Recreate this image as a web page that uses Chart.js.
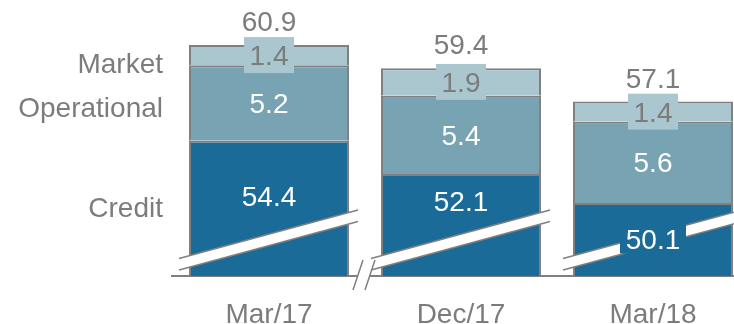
<!DOCTYPE html>
<html lang="en">
<head>
<meta charset="UTF-8">
<title>Capital requirements by risk type</title>
<script src="https://cdn.jsdelivr.net/npm/chart.js"></script>
<style>
  html, body { margin: 0; padding: 0; background: #ffffff; overflow: hidden; }
</style>
</head>
<body>
<canvas id="chart" width="734" height="324"></canvas>
<script>
  // values per period
  const periods = ['Mar/17', 'Dec/17', 'Mar/18'];
  const credit = [54.4, 52.1, 50.1];
  const operational = [5.2, 5.4, 5.6];
  const market = [1.4, 1.9, 1.4];
  const totals = [60.9, 59.4, 57.1];
  const riskNames = ['Market', 'Operational', 'Credit'];

  const GREY = '#808080';
  const TEXT = '#7c7c7c';
  const FONT = '"Liberation Sans", Arial, sans-serif';
  const COLORS = { credit: '#1b6b98', operational: '#78a3b3', market: '#aac6cf' };

  // left-hand captions (baseline y) and credit label drop below segment top
  const namesY = [73, 117, 217];
  const creditDrop = [55, 27, 36];

  function font(size) { return size + 'px ' + FONT; }

  const pts = arr => arr.map((v, i) => ({ x: i, y: v }));

  // broken-axis band across each bar
  const BAND = { leftOut: 10, rightOut: 9, lowY: 17.5, highY: 66, thick: 11.5 };
  function bandUpperAt(bar, bottom, x) {
    const L = bar.x - bar.width / 2 - BAND.leftOut;
    const R = bar.x + bar.width / 2 + BAND.rightOut;
    const t = (x - L) / (R - L);
    return bottom - BAND.lowY - t * (BAND.highY - BAND.lowY);
  }

  const breakPlugin = {
    id: 'axisBreak',
    afterDatasetsDraw(chart) {
      const ctx = chart.ctx;
      const bottom = chart.chartArea.bottom;
      ctx.save();
      chart.getDatasetMeta(0).data.forEach(bar => {
        const L = bar.x - bar.width / 2 - BAND.leftOut;
        const R = bar.x + bar.width / 2 + BAND.rightOut;
        const uL = bottom - BAND.lowY, uR = bottom - BAND.highY;
        ctx.beginPath();
        ctx.moveTo(L, uL);
        ctx.lineTo(R, uR);
        ctx.lineTo(R, uR + BAND.thick);
        ctx.lineTo(L, uL + BAND.thick);
        ctx.closePath();
        ctx.fillStyle = '#ffffff';
        ctx.fill();
        ctx.strokeStyle = GREY;
        ctx.lineWidth = 1.5;
        ctx.beginPath();
        ctx.moveTo(L, uL); ctx.lineTo(R, uR);
        ctx.moveTo(L, uL + BAND.thick); ctx.lineTo(R, uR + BAND.thick);
        ctx.stroke();
      });
      ctx.restore();
    },
    afterDraw(chart) {
      // "//" mark on the baseline between the first two bars
      const ctx = chart.ctx;
      const bottom = chart.chartArea.bottom;
      const b0 = chart.getDatasetMeta(0).data[0];
      const r = b0.x + b0.width / 2;
      ctx.save();
      ctx.fillStyle = '#ffffff';
      ctx.fillRect(r + 9, bottom - 3, 11, 6);
      ctx.strokeStyle = GREY;
      ctx.lineWidth = 1.5;
      ctx.beginPath();
      ctx.moveTo(r + 4, bottom + 14); ctx.lineTo(r + 14, bottom - 16);
      ctx.moveTo(r + 16, bottom + 14); ctx.lineTo(r + 26, bottom - 16);
      ctx.stroke();
      ctx.restore();
    }
  };

  const labelPlugin = {
    id: 'valueLabels',
    afterDatasetsDraw(chart) {
      const ctx = chart.ctx;
      const bottom = chart.chartArea.bottom;
      const cMeta = chart.getDatasetMeta(0).data;
      const oMeta = chart.getDatasetMeta(1).data;
      const mMeta = chart.getDatasetMeta(2).data;
      ctx.save();
      ctx.font = font(28);
      ctx.textAlign = 'center';
      ctx.textBaseline = 'alphabetic';

      cMeta.forEach((bar, i) => {
        const cy = bar.y + creditDrop[i];
        if (cy + 15 > bandUpperAt(bar, bottom, bar.x)) {
          ctx.fillStyle = COLORS.credit;
          ctx.fillRect(bar.x - 33, cy - 14.5, 66, 29);
        }
        ctx.fillStyle = '#ffffff';
        ctx.fillText(credit[i].toFixed(1), bar.x, cy + 10);
      });

      oMeta.forEach((bar, i) => {
        ctx.fillStyle = '#ffffff';
        ctx.fillText(operational[i].toFixed(1), bar.x, (bar.y + bar.base) / 2 + 10);
      });

      mMeta.forEach((bar, i) => {
        const cy = (bar.y + bar.base) / 2;
        ctx.fillStyle = COLORS.market;
        ctx.fillRect(bar.x - 25, cy - 18, 50, 36);
        ctx.fillStyle = TEXT;
        ctx.fillText(market[i].toFixed(1), bar.x, cy + 10);
        ctx.fillText(totals[i].toFixed(1), bar.x, bar.y - 14);
      });

      ctx.textAlign = 'right';
      ctx.fillStyle = TEXT;
      riskNames.forEach((name, i) => ctx.fillText(name, 163, namesY[i]));
      ctx.restore();
    }
  };

  const barStyle = { borderColor: GREY, borderWidth: 2, borderSkipped: 'start', stack: 'risk', clip: 0 };

  new Chart(document.getElementById('chart'), {
    type: 'bar',
    data: {
      datasets: [
        Object.assign({ label: 'Credit', data: pts(credit), backgroundColor: COLORS.credit }, barStyle),
        Object.assign({ label: 'Operational', data: pts(operational), backgroundColor: COLORS.operational }, barStyle),
        Object.assign({ label: 'Market', data: pts(market), backgroundColor: COLORS.market }, barStyle)
      ]
    },
    options: {
      responsive: false,
      animation: false,
      devicePixelRatio: 1,
      barPercentage: 160 / 192,
      categoryPercentage: 1,
      layout: { padding: { left: 172, right: 0, top: 30, bottom: 0 } },
      plugins: { legend: { display: false }, tooltip: { enabled: false } },
      scales: {
        x: {
          type: 'linear',
          stacked: true,
          offset: false,
          min: -0.5052,
          max: 2.4219,
          z: 1,
          grid: { display: false },
          border: { display: true, color: GREY, width: 2 },
          afterBuildTicks: s => { s.ticks = periods.map((p, i) => ({ value: i })); },
          afterFit: s => { s.height = 48; },
          ticks: {
            autoSkip: false,
            maxRotation: 0,
            padding: 14,
            color: TEXT,
            font: { family: FONT, size: 28 },
            callback: v => periods[v]
          }
        },
        y: {
          stacked: true,
          display: false,
          beginAtZero: false,
          min: 45.07,
          max: 62.03
        }
      }
    },
    plugins: [breakPlugin, labelPlugin]
  });
</script>
</body>
</html>
